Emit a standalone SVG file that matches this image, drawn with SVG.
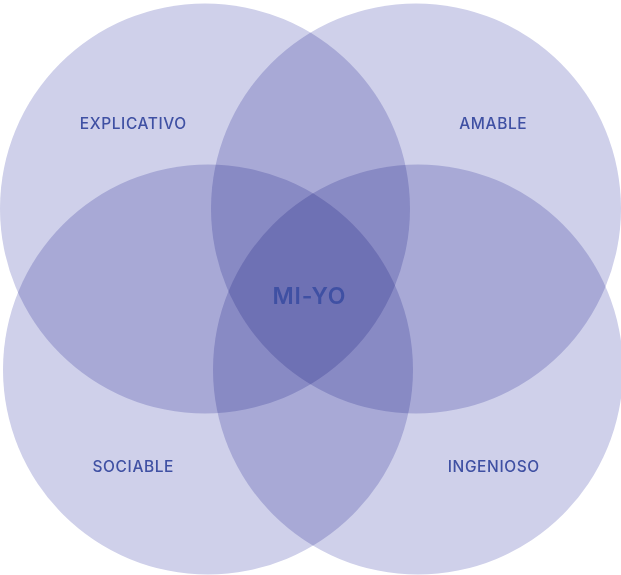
<svg xmlns="http://www.w3.org/2000/svg" width="621" height="575" viewBox="0 0 621 575">
  <style>
    .ring { fill: #cfd0ea; mix-blend-mode: multiply; }
    .label { font-family: Inter, "Noto Sans", "Liberation Sans", sans-serif; font-size: 15.5px; font-weight: 500; fill: #3f50a3; text-anchor: middle; letter-spacing: 0.6px; }
    .core { font-family: Inter, "Noto Sans", "Liberation Sans", sans-serif; font-size: 23px; font-weight: 600; fill: #3f50a3; text-anchor: middle; letter-spacing: 0.8px; }
  </style>
  <rect width="621" height="575" fill="#ffffff"/>
  <g id="connectors"/>
  <g style="isolation:isolate">
    <g id="explicativo">
      <circle class="ring" cx="205" cy="208.5" r="205"/>
    </g>
    <g id="amable">
      <circle class="ring" cx="416" cy="208.5" r="205"/>
    </g>
    <g id="sociable">
      <circle class="ring" cx="208" cy="369.5" r="205"/>
    </g>
    <g id="ingenioso">
      <circle class="ring" cx="418" cy="369.5" r="205"/>
    </g>
  </g>
  <text class="label" x="133.3" y="129">EXPLICATIVO</text>
  <text class="label" x="493.3" y="129">AMABLE</text>
  <text class="label" x="133.3" y="472">SOCIABLE</text>
  <text class="label" x="493.8" y="472">INGENIOSO</text>
  <g id="mi-yo">
    <text class="core" x="309.4" y="304">MI-YO</text>
  </g>
</svg>
